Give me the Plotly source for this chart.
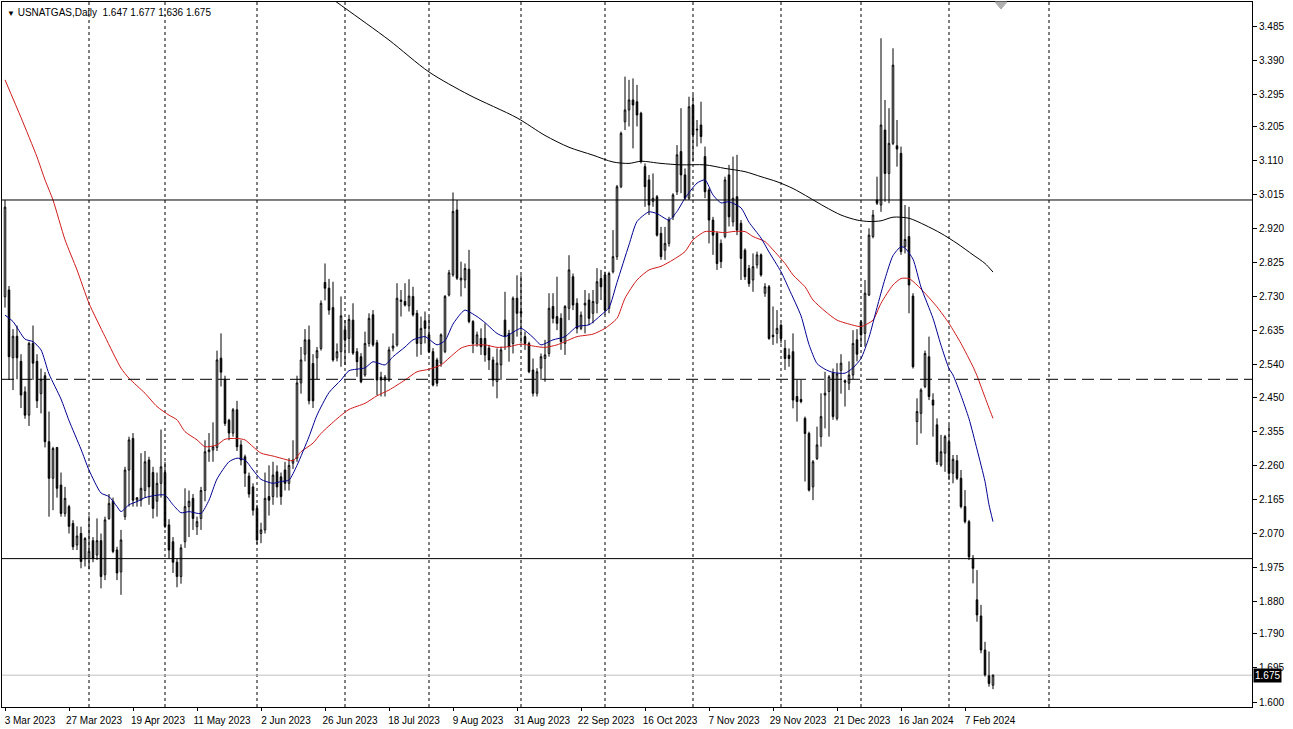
import plotly.graph_objects as go

# ---------------- data ----------------
opens = [2.73, 2.749, 2.56, 2.62, 2.55, 2.465, 2.40, 2.60, 2.55, 2.46,
         2.51, 2.326, 2.224, 2.31, 2.205, 2.126, 2.145, 2.098, 2.038, 2.07,
         2.00, 2.00, 2.05, 2.01, 2.05, 1.955, 2.112, 2.16, 2.024, 1.963,
         2.117, 2.247, 2.335, 2.163, 2.163, 2.19, 2.275, 2.24, 2.16, 2.21,
         2.24, 2.094, 2.047, 1.99, 1.95, 2.047, 2.145, 2.168, 2.089, 2.112,
         2.19, 2.298, 2.303, 2.31, 2.559, 2.50, 2.386, 2.35, 2.415, 2.317,
         2.284, 2.23, 2.20, 2.14, 2.07, 2.08, 2.173, 2.173, 2.242, 2.228,
         2.247, 2.21, 2.266, 2.28, 2.49, 2.57, 2.61, 2.544, 2.56, 2.586,
         2.77, 2.754, 2.70, 2.56, 2.577, 2.638, 2.614, 2.665, 2.577, 2.563,
         2.512, 2.60, 2.68, 2.602, 2.506, 2.498, 2.498, 2.587, 2.596, 2.717,
         2.717, 2.705, 2.731, 2.684, 2.60, 2.663, 2.624, 2.577, 2.554, 2.545,
         2.577, 2.735, 2.791, 2.972, 2.777, 2.777, 2.807, 2.661, 2.60, 2.614,
         2.614, 2.587, 2.554, 2.494, 2.540, 2.665, 2.628, 2.600, 2.726, 2.689,
         2.619, 2.60, 2.526, 2.461, 2.531, 2.558, 2.572, 2.703, 2.675, 2.670,
         2.600, 2.698, 2.786, 2.712, 2.642, 2.707, 2.721, 2.684, 2.712, 2.781,
         2.791, 2.698, 2.800, 2.842, 3.037, 3.218, 3.251, 3.279, 3.274, 3.242,
         3.093, 3.056, 2.996, 3.009, 2.907, 2.860, 2.879, 2.953, 3.023, 3.135,
         3.070, 3.005, 3.265, 3.195, 3.209, 3.121, 3.028, 2.944, 2.907, 2.879,
         2.898, 3.070, 2.939, 3.009, 2.935, 2.860, 2.809, 2.777, 2.819, 2.847,
         2.740, 2.758, 2.623, 2.628, 2.651, 2.586, 2.567, 2.577, 2.452, 2.444,
         2.391, 2.349, 2.200, 2.279, 2.340, 2.456, 2.466, 2.517, 2.391, 2.525,
         2.496, 2.489, 2.512, 2.61, 2.66, 2.628, 2.735, 2.898, 3.000, 2.986,
         3.195, 3.074, 3.158, 3.151, 3.130, 2.870, 2.898, 2.732, 2.382, 2.405,
         2.48, 2.563, 2.442, 2.373, 2.261, 2.294, 2.326, 2.238, 2.273, 2.224,
         2.145, 2.103, 2.001, 1.885, 1.840, 1.745, 1.673, 1.647]
highs = [3.00, 2.76, 2.64, 2.65, 2.57, 2.48, 2.605, 2.65, 2.57, 2.53,
         2.52, 2.41, 2.312, 2.31, 2.24, 2.20, 2.15, 2.107, 2.09, 2.089,
         2.06, 2.12, 2.06, 2.112, 2.07, 2.117, 2.18, 2.17, 2.033, 2.08,
         2.256, 2.34, 2.35, 2.17, 2.294, 2.30, 2.284, 2.256, 2.24, 2.36,
         2.27, 2.11, 2.06, 2.00, 2.04, 2.196, 2.19, 2.18, 2.117, 2.20,
         2.33, 2.35, 2.38, 2.58, 2.628, 2.51, 2.39, 2.42, 2.44, 2.33,
         2.29, 2.24, 2.21, 2.15, 2.10, 2.24, 2.26, 2.27, 2.26, 2.24,
         2.27, 2.28, 2.33, 2.51, 2.59, 2.64, 2.65, 2.57, 2.59, 2.72,
         2.823, 2.78, 2.772, 2.60, 2.731, 2.665, 2.68, 2.712, 2.587, 2.573,
         2.633, 2.684, 2.693, 2.61, 2.521, 2.512, 2.591, 2.628, 2.768, 2.749,
         2.768, 2.779, 2.758, 2.693, 2.675, 2.689, 2.675, 2.587, 2.56, 2.628,
         2.735, 2.805, 3.021, 3.00, 2.828, 2.823, 2.861, 2.665, 2.633, 2.642,
         2.656, 2.596, 2.563, 2.586, 2.591, 2.744, 2.638, 2.731, 2.79, 2.79,
         2.633, 2.605, 2.558, 2.531, 2.572, 2.61, 2.740, 2.740, 2.786, 2.684,
         2.707, 2.846, 2.795, 2.726, 2.689, 2.749, 2.740, 2.749, 2.81, 2.805,
         2.80, 2.80, 2.916, 3.042, 3.191, 3.344, 3.335, 3.339, 3.321, 3.246,
         3.102, 3.070, 3.074, 3.014, 2.925, 2.925, 2.953, 3.019, 3.153, 3.256,
         3.088, 3.288, 3.293, 3.223, 3.274, 3.149, 3.033, 2.953, 2.912, 2.89,
         3.065, 3.098, 3.121, 3.126, 2.944, 2.865, 2.819, 2.851, 2.856, 2.851,
         2.768, 2.763, 2.703, 2.693, 2.656, 2.610, 2.586, 2.628, 2.498, 2.498,
         2.396, 2.354, 2.275, 2.368, 2.461, 2.521, 2.512, 2.53, 2.545, 2.57,
         2.50, 2.55, 2.637, 2.64, 2.665, 2.777, 2.921, 2.972, 3.065, 3.451,
         3.279, 3.256, 3.423, 3.223, 3.149, 2.986, 2.981, 2.74, 2.447, 2.475,
         2.58, 2.619, 2.461, 2.391, 2.345, 2.345, 2.373, 2.289, 2.289, 2.247,
         2.191, 2.108, 2.010, 1.968, 1.871, 1.768, 1.741, 1.677]
lows = [2.70, 2.498, 2.47, 2.50, 2.42, 2.39, 2.37, 2.498, 2.42, 2.405,
        2.31, 2.117, 2.135, 2.17, 2.117, 2.117, 2.07, 2.024, 2.024, 1.973,
        1.978, 1.97, 1.99, 1.996, 1.917, 1.94, 2.108, 2.015, 1.94, 1.899,
        2.108, 2.145, 2.145, 2.145, 2.145, 2.17, 2.15, 2.112, 2.117, 2.17,
        2.085, 2.00, 1.96, 1.92, 1.93, 2.03, 2.06, 2.08, 2.066, 2.08,
        2.16, 2.27, 2.27, 2.30, 2.48, 2.37, 2.33, 2.34, 2.30, 2.26,
        2.20, 2.17, 2.12, 2.04, 2.043, 2.07, 2.12, 2.15, 2.17, 2.15,
        2.19, 2.19, 2.25, 2.27, 2.46, 2.55, 2.43, 2.42, 2.50, 2.58,
        2.72, 2.68, 2.549, 2.55, 2.535, 2.54, 2.573, 2.568, 2.507, 2.489,
        2.507, 2.591, 2.591, 2.456, 2.452, 2.452, 2.493, 2.578, 2.591, 2.675,
        2.703, 2.689, 2.675, 2.563, 2.568, 2.60, 2.573, 2.480, 2.48, 2.535,
        2.573, 2.731, 2.786, 2.777, 2.731, 2.754, 2.656, 2.573, 2.591, 2.568,
        2.549, 2.526, 2.480, 2.447, 2.498, 2.582, 2.549, 2.572, 2.619, 2.60,
        2.582, 2.517, 2.452, 2.452, 2.498, 2.493, 2.563, 2.656, 2.637, 2.582,
        2.568, 2.665, 2.693, 2.628, 2.637, 2.628, 2.651, 2.656, 2.684, 2.721,
        2.68, 2.684, 2.795, 2.833, 3.033, 3.195, 3.205, 3.144, 3.205, 3.102,
        2.981, 2.958, 2.981, 2.898, 2.833, 2.833, 2.870, 2.944, 3.014, 3.019,
        3.000, 3.000, 3.107, 3.149, 3.158, 3.005, 2.879, 2.847, 2.805, 2.81,
        2.893, 2.926, 2.926, 2.902, 2.777, 2.777, 2.758, 2.744, 2.809, 2.786,
        2.730, 2.610, 2.596, 2.600, 2.600, 2.526, 2.535, 2.419, 2.382, 2.433,
        2.215, 2.187, 2.163, 2.275, 2.312, 2.363, 2.340, 2.387, 2.385, 2.46,
        2.424, 2.47, 2.50, 2.55, 2.59, 2.591, 2.732, 2.893, 2.986, 2.967,
        2.995, 2.991, 3.153, 3.093, 2.847, 2.851, 2.684, 2.53, 2.317, 2.349,
        2.475, 2.442, 2.340, 2.261, 2.256, 2.242, 2.219, 2.210, 2.219, 2.140,
        2.098, 1.996, 1.931, 1.824, 1.736, 1.671, 1.643, 1.636]
closes = [2.98, 2.563, 2.62, 2.56, 2.456, 2.40, 2.60, 2.545, 2.44, 2.50,
          2.326, 2.224, 2.307, 2.196, 2.126, 2.168, 2.09, 2.033, 2.063, 1.992,
          2.056, 2.02, 2.00, 2.05, 1.95, 2.108, 2.154, 2.02, 1.96, 2.052,
          2.247, 2.331, 2.163, 2.17, 2.196, 2.27, 2.20, 2.14, 2.21, 2.256,
          2.09, 2.024, 1.99, 1.95, 2.03, 2.145, 2.16, 2.112, 2.103, 2.19,
          2.298, 2.303, 2.312, 2.554, 2.52, 2.377, 2.35, 2.415, 2.312, 2.275,
          2.238, 2.18, 2.135, 2.052, 2.08, 2.168, 2.163, 2.233, 2.20, 2.173,
          2.21, 2.26, 2.275, 2.49, 2.554, 2.61, 2.44, 2.44, 2.58, 2.712,
          2.754, 2.693, 2.554, 2.577, 2.677, 2.61, 2.667, 2.573, 2.549, 2.493,
          2.60, 2.67, 2.596, 2.498, 2.498, 2.506, 2.582, 2.593, 2.726, 2.721,
          2.707, 2.732, 2.68, 2.60, 2.642, 2.642, 2.577, 2.484, 2.489, 2.624,
          2.731, 2.797, 2.968, 2.782, 2.782, 2.809, 2.661, 2.60, 2.624, 2.591,
          2.568, 2.554, 2.498, 2.545, 2.582, 2.619, 2.591, 2.726, 2.684, 2.684,
          2.60, 2.521, 2.461, 2.521, 2.563, 2.568, 2.698, 2.670, 2.656, 2.605,
          2.703, 2.805, 2.707, 2.642, 2.679, 2.712, 2.670, 2.717, 2.772, 2.758,
          2.693, 2.795, 2.842, 3.037, 3.186, 3.251, 3.279, 3.265, 3.237, 3.107,
          3.037, 2.986, 3.005, 2.902, 2.842, 2.879, 2.944, 3.014, 3.126, 3.070,
          3.005, 3.260, 3.181, 3.197, 3.177, 3.023, 2.944, 2.902, 2.823, 2.828,
          3.056, 2.953, 3.005, 2.916, 2.837, 2.786, 2.767, 2.814, 2.847, 2.791,
          2.758, 2.614, 2.619, 2.642, 2.614, 2.558, 2.558, 2.442, 2.438, 2.438,
          2.349, 2.191, 2.270, 2.317, 2.396, 2.461, 2.507, 2.396, 2.515, 2.545,
          2.492, 2.512, 2.60, 2.57, 2.624, 2.740, 2.902, 2.958, 2.991, 3.209,
          3.074, 3.158, 3.376, 3.142, 2.856, 2.890, 2.763, 2.535, 2.410, 2.470,
          2.572, 2.452, 2.428, 2.270, 2.298, 2.340, 2.238, 2.277, 2.224, 2.145,
          2.103, 2.005, 1.973, 1.843, 1.745, 1.676, 1.652, 1.675]

# moving averages sampled at bar numbers
fast_ma_bars = [0, 2, 5, 7, 9, 11, 14, 16, 19, 21, 24, 26, 28, 29, 31, 33, 35, 38, 40, 42,
                44, 46, 49, 51, 53, 56, 58, 60, 62, 64, 67, 69, 71, 73, 76, 78, 81, 84, 86, 90,
                92, 95, 97, 100, 102, 105, 106, 108, 110, 112, 114, 115, 118, 120, 123, 125, 129, 132, 134, 137,
                140, 143, 146, 149, 151, 153, 156, 158, 161, 163, 166, 168, 170, 173, 175, 177, 179, 181, 184, 186,
                189, 191, 194, 196, 199, 201, 203, 205, 207, 210, 212, 214, 216, 218, 220, 222, 224, 225, 227, 229,
                232, 234, 236, 237, 239, 241, 243, 245, 246, 247]
fast_ma_vals = [2.679, 2.661, 2.612, 2.605, 2.582, 2.515, 2.445, 2.385, 2.305, 2.247, 2.183, 2.173, 2.145, 2.131, 2.150, 2.159, 2.170, 2.177, 2.177, 2.150,
                2.128, 2.131, 2.126, 2.163, 2.222, 2.270, 2.280, 2.275, 2.247, 2.221, 2.210, 2.215, 2.219, 2.260, 2.340, 2.400, 2.463, 2.498, 2.524, 2.532,
                2.549, 2.540, 2.563, 2.590, 2.610, 2.619, 2.612, 2.596, 2.608, 2.654, 2.684, 2.693, 2.675, 2.658, 2.628, 2.619, 2.642, 2.617, 2.596, 2.610,
                2.619, 2.647, 2.652, 2.679, 2.700, 2.770, 2.875, 2.940, 2.967, 2.962, 2.944, 2.968, 3.005, 3.047, 3.056, 3.014, 2.992, 2.995, 2.978, 2.938,
                2.894, 2.855, 2.800, 2.752, 2.677, 2.597, 2.544, 2.528, 2.519, 2.517, 2.532, 2.558, 2.617, 2.700, 2.780, 2.845, 2.870, 2.866, 2.835, 2.757,
                2.670, 2.595, 2.530, 2.512, 2.455, 2.390, 2.305, 2.215, 2.150, 2.103]

mid_ma_bars = [0, 4, 8, 10, 12, 15, 18, 21, 25, 29, 31, 35, 38, 41, 43, 45, 48, 50, 53, 55,
               58, 60, 62, 64, 67, 69, 72, 74, 77, 79, 83, 86, 90, 93, 96, 100, 103, 106, 109, 111,
               114, 116, 120, 123, 126, 129, 133, 135, 138, 140, 143, 147, 150, 153, 155, 158, 161, 164, 167, 170,
               172, 175, 177, 180, 182, 185, 187, 190, 192, 195, 197, 200, 202, 205, 208, 212, 214, 217, 219, 222,
               224, 226, 228, 230, 233, 236, 239, 242, 243, 244, 245, 246, 247]
mid_ma_vals = [3.335, 3.23, 3.12, 3.056, 3.00, 2.889, 2.805, 2.712, 2.619, 2.531, 2.503, 2.461, 2.424, 2.400, 2.387, 2.354, 2.331, 2.312, 2.317, 2.333,
               2.335, 2.331, 2.312, 2.294, 2.286, 2.280, 2.273, 2.298, 2.322, 2.349, 2.390, 2.416, 2.433, 2.454, 2.470, 2.498, 2.521, 2.528, 2.540, 2.559,
               2.587, 2.594, 2.596, 2.589, 2.591, 2.598, 2.591, 2.589, 2.596, 2.605, 2.619, 2.626, 2.642, 2.670, 2.726, 2.777, 2.805, 2.815, 2.833, 2.856,
               2.889, 2.912, 2.912, 2.909, 2.912, 2.912, 2.898, 2.884, 2.861, 2.823, 2.791, 2.758, 2.721, 2.690, 2.665, 2.651, 2.647, 2.665, 2.712, 2.763,
               2.781, 2.781, 2.763, 2.740, 2.702, 2.656, 2.600, 2.535, 2.51, 2.48, 2.45, 2.42, 2.391]

slow_ma_bars = [80, 85, 96, 106, 116, 128, 135, 141, 147, 152, 156, 159, 164, 169, 175, 180, 185, 189,
                193, 197, 201, 205, 209, 213, 216, 219, 222, 226, 230, 234, 238, 242, 245, 247]
slow_ma_vals = [3.575, 3.535, 3.446, 3.357, 3.293, 3.229, 3.180, 3.147, 3.125, 3.106, 3.102, 3.108, 3.102, 3.098, 3.098, 3.088, 3.079, 3.065,
                3.051, 3.032, 3.007, 2.981, 2.958, 2.944, 2.940, 2.942, 2.952, 2.949, 2.930, 2.907, 2.879, 2.847, 2.823, 2.799]

date_label_bars = [0, 16, 32, 48, 64, 80, 96, 112, 128, 144, 160, 176, 192, 208, 224, 240]
date_labels = ["3 Mar 2023", "27 Mar 2023", "19 Apr 2023", "11 May 2023", "2 Jun 2023", "26 Jun 2023",
               "18 Jul 2023", "9 Aug 2023", "31 Aug 2023", "22 Sep 2023", "16 Oct 2023", "7 Nov 2023",
               "29 Nov 2023", "21 Dec 2023", "16 Jan 2024", "7 Feb 2024"]
month_start_bars = [21, 40, 63, 85, 106, 129, 150, 172, 194, 214, 236, 261]
price_labels = ["3.485", "3.390", "3.295", "3.205", "3.110", "3.015", "2.920", "2.825", "2.730", "2.635",
                "2.540", "2.450", "2.355", "2.260", "2.165", "2.070", "1.975", "1.880", "1.790", "1.695", "1.600"]
solid_levels = [3.00, 2.00]
dashed_levels = [2.50]
last_price = 1.675
symbol_title = "USNATGAS,Daily"
ohlc_text = "1.647 1.677 1.636 1.675"

# ---------------- figure ----------------
bars = list(range(len(opens)))
FONT = "Liberation Sans, Arial, sans-serif"

fig = go.Figure()
fig.add_trace(go.Candlestick(
    x=bars, open=opens, high=highs, low=lows, close=closes,
    increasing=dict(line=dict(color="black", width=1), fillcolor="white"),
    decreasing=dict(line=dict(color="black", width=1), fillcolor="black"),
    whiskerwidth=0, hoverinfo="skip", showlegend=False,
))
fig.add_trace(go.Scatter(x=slow_ma_bars, y=slow_ma_vals, mode="lines",
                         line=dict(color="black", width=1, shape="spline", smoothing=0.8),
                         hoverinfo="skip", showlegend=False))
fig.add_trace(go.Scatter(x=mid_ma_bars, y=mid_ma_vals, mode="lines",
                         line=dict(color="#d01a1a", width=1, shape="spline", smoothing=0.6),
                         hoverinfo="skip", showlegend=False))
fig.add_trace(go.Scatter(x=fast_ma_bars, y=fast_ma_vals, mode="lines",
                         line=dict(color="#000090", width=1, shape="spline", smoothing=0.6),
                         hoverinfo="skip", showlegend=False))

shapes = []
for b in month_start_bars:
    shapes.append(dict(type="line", xref="x", yref="paper", x0=b, x1=b, y0=0, y1=1,
                       line=dict(color="black", width=1, dash="3px,3px"), layer="below"))
for lv in solid_levels:
    shapes.append(dict(type="line", xref="paper", yref="y", x0=0, x1=1, y0=lv, y1=lv,
                       line=dict(color="black", width=1), layer="above"))
for lv in dashed_levels:
    shapes.append(dict(type="line", xref="paper", yref="y", x0=0, x1=1, y0=lv, y1=lv,
                       line=dict(color="black", width=1, dash="12px,6px"), layer="above"))
shapes.append(dict(type="line", xref="paper", yref="y", x0=0, x1=1, y0=last_price, y1=last_price,
                   line=dict(color="#c0c0c0", width=1), layer="below"))
# chart-shift marker at top
shapes.append(dict(type="path", xref="x", yref="paper",
                   path="M 247.5 1 L 250.5 1 L 249 0.99 Z",
                   fillcolor="#b0b0b0", line=dict(color="#b0b0b0", width=1)))

annotations = [
    dict(xref="paper", yref="paper", x=0, y=1, xanchor="left", yanchor="top",
         xshift=3, yshift=-3, showarrow=False, align="left",
         text='<span style="font-size:8px">▼</span> ' + symbol_title + "  " + ohlc_text,
         font=dict(family=FONT, size=10, color="black")),
    dict(xref="paper", yref="y", x=1, y=last_price, xanchor="left", yanchor="middle",
         xshift=1, showarrow=False, text=f"{last_price:.3f}", bgcolor="black",
         borderpad=1, font=dict(family=FONT, size=10, color="white")),
]

fig.update_layout(
    width=1293, height=729,
    margin=dict(l=2, r=41, t=2, b=22),
    paper_bgcolor="white", plot_bgcolor="white",
    boxgap=0.45,
    showlegend=False,
    shapes=shapes, annotations=annotations,
    font=dict(family=FONT, size=10, color="black"),
    xaxis=dict(range=[-0.75, 311.75], rangeslider=dict(visible=False),
               tickmode="array", tickvals=date_label_bars, ticktext=date_labels,
               ticks="outside", ticklen=3, tickcolor="black", ticklabelshift=25,
               ticklabelstandoff=1,
               showgrid=False, zeroline=False, showline=True, linecolor="black",
               linewidth=1, mirror=True, fixedrange=True,
               tickfont=dict(family=FONT, size=10, color="black")),
    yaxis=dict(range=[1.5862, 3.5521], side="right",
               tickmode="array", tickvals=[float(t) for t in price_labels], ticktext=price_labels,
               ticks="outside", ticklen=4, tickcolor="black",
               showgrid=False, zeroline=False, showline=True, linecolor="black",
               linewidth=1, mirror=True, fixedrange=True,
               tickfont=dict(family=FONT, size=10, color="black")),
)

fig.write_html("out.html",
               config={"displayModeBar": False},
               post_script="document.body.style.margin='0';document.body.style.overflow='hidden';")
